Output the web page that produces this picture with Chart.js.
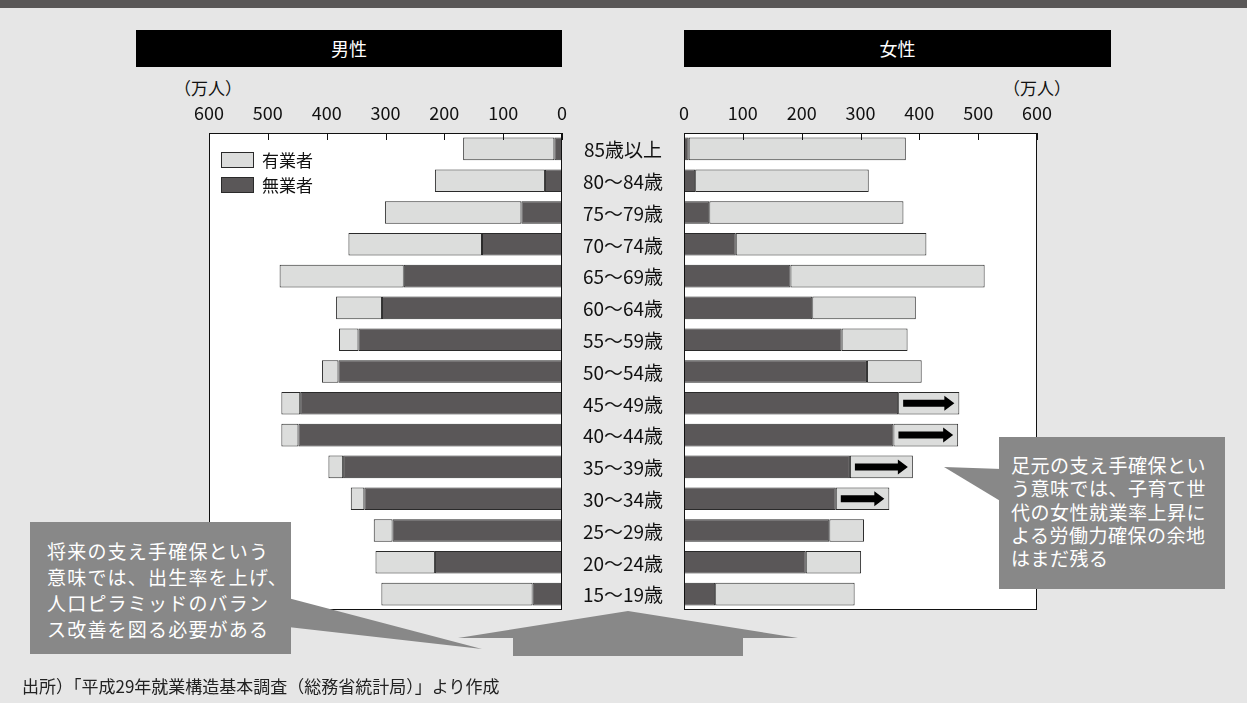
<!DOCTYPE html>
<html><head><meta charset="utf-8">
<script src="https://cdn.jsdelivr.net/npm/chart.js@4/dist/chart.umd.min.js"></script>
<style>
body{margin:0;background:#e6e6e6;font-family:'Noto Sans CJK JP','Noto Sans',sans-serif;}
#page{position:relative;width:1247px;height:703px;overflow:hidden;background:#e6e6e6;}
.abs{position:absolute;}
#band{left:0;top:0;width:1247px;height:8px;background:#595757;}
.title{background:#000;color:#fff;font-size:18px;height:37px;line-height:37px;text-align:center;top:30px;}
.unit{font-size:17px;color:#111;top:75px;width:80px;text-align:center;}
.callout{background:#888;color:#fff;font-size:19px;box-sizing:border-box;white-space:nowrap;}
#footer{left:22px;top:673px;font-size:17px;color:#222;}
canvas{display:block;}
</style></head>
<body>
<div id="page">
  <div id="band" class="abs"></div>
  <div class="abs title" style="left:136px;width:426px;">男性</div>
  <div class="abs title" style="left:684px;width:427px;">女性</div>
  <div class="abs unit" style="left:168px;">（万人）</div>
  <div class="abs unit" style="left:997px;">（万人）</div>
  <div class="abs" style="left:150px;top:60px;width:430px;height:570px;"><canvas id="male" width="430" height="570"></canvas></div>
  <div class="abs" style="left:562px;top:60px;width:495px;height:570px;"><canvas id="female" width="495" height="570"></canvas></div>
  <svg class="abs" style="left:0;top:0;" width="1247" height="703">
    <polygon points="288,598 482,649 288,627" fill="#888"/>
    <polygon points="1002,469 944,467 1002,502" fill="#888"/>
    <polygon points="628,611 798,638 743,638 743,656 513,656 513,638 458,638" fill="#888"/>
  </svg>
  <div class="abs callout" style="left:30px;top:522px;width:261px;height:132px;padding:16px 0 0 17px;line-height:26px;letter-spacing:1.2px;">将来の支え手確保という<br>意味では、出生率を上げ、<br>人口ピラミッドのバラン<br>ス改善を図る必要がある</div>
  <div class="abs callout" style="left:999px;top:437px;width:226px;height:152px;padding:16px 0 0 12px;line-height:23.3px;letter-spacing:0.5px;">足元の支え手確保とい<br>う意味では、子育て世<br>代の女性就業率上昇に<br>よる労働力確保の余地<br>はまだ残る</div>
  <div id="footer" class="abs">出所）「平成29年就業構造基本調査（総務省統計局）」より作成</div>
</div>
<script>
const categories = ['85歳以上','80〜84歳','75〜79歳','70〜74歳','65〜69歳','60〜64歳','55〜59歳','50〜54歳','45〜49歳','40〜44歳','35〜39歳','30〜34歳','25〜29歳','20〜24歳','15〜19歳'];
const maleDark   = [13, 29, 69, 136, 269, 306, 346, 380, 445, 448, 372, 336, 288, 216, 50];
const maleLight  = [155, 187, 232, 227, 211, 78, 33, 28, 32, 29, 25, 23, 32, 101, 257];
const femaleDark = [8, 19, 43, 88, 181, 218, 268, 311, 364, 356, 282, 258, 247, 207, 53];
const femaleLight= [369, 295, 330, 324, 330, 176, 112, 93, 104, 110, 107, 91, 59, 94, 237];
const xTickValues = [0,100,200,300,400,500,600];
const lightLabel = '有業者';
const darkLabel = '無業者';
const arrowRows = ['45〜49歳','40〜44歳','35〜39歳','30〜34歳'];

const LIGHT = '#dcdddc', DARK = '#5a5758', EDGE = '#2a2a2a';
const FONT = "'Noto Sans CJK JP','Noto Sans',sans-serif";

const framePlugin = {
  id: 'frame',
  beforeDatasetsDraw(chart) {
    const {ctx, chartArea: a} = chart;
    ctx.save(); ctx.fillStyle = '#fff';
    ctx.fillRect(a.left, a.top, a.right - a.left, a.bottom - a.top);
    ctx.restore();
  },
  afterDatasetsDraw(chart) {
    const {ctx, chartArea: a} = chart;
    const xs = chart.scales.x;
    ctx.save();
    ctx.strokeStyle = '#111'; ctx.lineWidth = 1;
    ctx.strokeRect(Math.round(a.left) + 0.5, Math.round(a.top) + 0.5, Math.round(a.right - a.left) - 1, Math.round(a.bottom - a.top) - 1);
    ctx.beginPath();
    xTickValues.forEach(v => {
      const x = Math.round(xs.getPixelForValue(v)) + 0.5;
      ctx.moveTo(x, a.top); ctx.lineTo(x, a.top + 7);
    });
    ctx.stroke();
    ctx.restore();
  }
};

const legendPlugin = {
  id: 'boxLegend',
  afterDraw(chart) {
    const {ctx, chartArea: a} = chart;
    const items = [[lightLabel, LIGHT], [darkLabel, DARK]];
    ctx.save();
    ctx.font = '17px ' + FONT; ctx.textBaseline = 'middle'; ctx.fillStyle = '#111';
    items.forEach((it, i) => {
      const y = a.top + 19 + i * 25;
      ctx.fillStyle = it[1]; ctx.fillRect(a.left + 12, y, 33, 16);
      ctx.strokeStyle = EDGE; ctx.lineWidth = 1; ctx.strokeRect(a.left + 12.5, y + 0.5, 32, 15);
      ctx.fillStyle = '#111'; ctx.fillText(it[0], a.left + 53, y + 8.5);
    });
    ctx.restore();
  }
};

const labelPlugin = {
  id: 'ageLabels',
  afterDraw(chart) {
    const {ctx, chartArea: a} = chart;
    const ys = chart.scales.y;
    ctx.save();
    ctx.font = '19px ' + FONT; ctx.fillStyle = '#111';
    ctx.textAlign = 'center'; ctx.textBaseline = 'middle';
    categories.forEach((c, i) => ctx.fillText(c, a.left - 61, ys.getPixelForValue(i) + 1));
    ctx.restore();
  }
};

const arrowPlugin = {
  id: 'arrows',
  afterDatasetsDraw(chart) {
    const {ctx} = chart;
    const xs = chart.scales.x, ys = chart.scales.y;
    ctx.save(); ctx.fillStyle = '#000';
    arrowRows.forEach(r => {
      const i = categories.indexOf(r);
      const x0 = xs.getPixelForValue(femaleDark[i]) + 5;
      const x1 = xs.getPixelForValue(femaleDark[i] + femaleLight[i]) - 5;
      const y = ys.getPixelForValue(i);
      ctx.beginPath();
      ctx.moveTo(x0, y - 3.5); ctx.lineTo(x1 - 10, y - 3.5); ctx.lineTo(x1 - 10, y - 7.5);
      ctx.lineTo(x1, y); ctx.lineTo(x1 - 10, y + 7.5); ctx.lineTo(x1 - 10, y + 3.5);
      ctx.lineTo(x0, y + 3.5); ctx.closePath(); ctx.fill();
    });
    ctx.restore();
  }
};

function makeChart(id, dark, light, reverse, padding, extraPlugins) {
  return new Chart(document.getElementById(id), {
    type: 'bar',
    data: {
      labels: categories,
      datasets: [
        {label: darkLabel, data: dark, backgroundColor: DARK, borderColor: EDGE, borderWidth: 1, borderSkipped: false, barPercentage: 0.71, categoryPercentage: 1},
        {label: lightLabel, data: light, backgroundColor: LIGHT, borderColor: EDGE, borderWidth: 1, borderSkipped: false, barPercentage: 0.71, categoryPercentage: 1}
      ]
    },
    options: {
      indexAxis: 'y',
      responsive: false,
      animation: false,
      layout: {padding},
      plugins: {legend: {display: false}, tooltip: {enabled: false}},
      scales: {
        x: {
          type: 'linear', min: 0, max: 600, reverse, position: 'top', stacked: true,
          afterBuildTicks: s => { s.ticks = xTickValues.map(v => ({value: v})); },
          afterFit: s => { s.height = 40; s.paddingLeft = 0; s.paddingRight = 0; },
          grid: {display: false, drawTicks: false},
          border: {display: false},
          ticks: {font: {size: 18, family: FONT}, color: '#111', padding: 9, maxRotation: 0}
        },
        y: {type: 'category', display: false, stacked: true}
      }
    },
    plugins: [framePlugin, ...extraPlugins]
  });
}

makeChart('male', maleDark, maleLight, true, {left: 59, right: 18, top: 33, bottom: 20}, [legendPlugin]);
makeChart('female', femaleDark, femaleLight, false, {left: 122, right: 20, top: 33, bottom: 20}, [labelPlugin, arrowPlugin]);
</script>
</body></html>
